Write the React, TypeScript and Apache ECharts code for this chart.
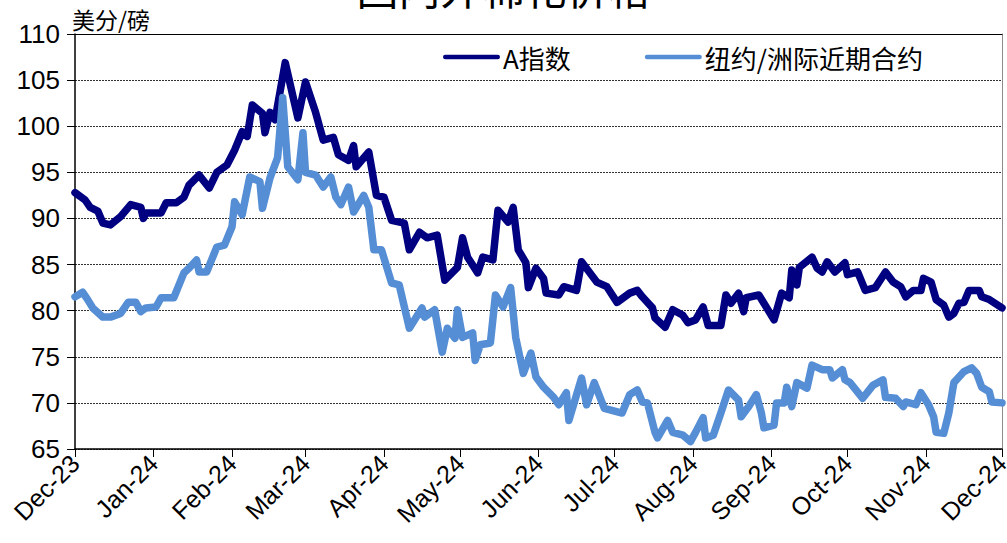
import React, { useEffect, useRef } from 'react';
import * as echarts from 'echarts';

const titleText = '国内外棉花价格';
const unitLabel = '美分/磅';
const seriesNames = ['A指数', '纽约/洲际近期合约'];

const tickDates = [
  '2023-12-01', '2024-01-01', '2024-02-01', '2024-03-01', '2024-04-01', '2024-05-01', '2024-06-01',
  '2024-07-01', '2024-08-01', '2024-09-01', '2024-10-01', '2024-11-01', '2024-12-01',
];
const tickLabels = [
  'Dec-23', 'Jan-24', 'Feb-24', 'Mar-24', 'Apr-24', 'May-24', 'Jun-24',
  'Jul-24', 'Aug-24', 'Sep-24', 'Oct-24', 'Nov-24', 'Dec-24',
];

const aDates = [
  '2023-12-01', '2023-12-05', '2023-12-07', '2023-12-10', '2023-12-12', '2023-12-15', '2023-12-19', '2023-12-23',
  '2023-12-27', '2023-12-28', '2023-12-29', '2024-01-04', '2024-01-06', '2024-01-10', '2024-01-13', '2024-01-15',
  '2024-01-19', '2024-01-23', '2024-01-26', '2024-01-30', '2024-02-02', '2024-02-05', '2024-02-07', '2024-02-09',
  '2024-02-13', '2024-02-14', '2024-02-16', '2024-02-18', '2024-02-22', '2024-02-27', '2024-03-01', '2024-03-05',
  '2024-03-08', '2024-03-12', '2024-03-14', '2024-03-18', '2024-03-20', '2024-03-21', '2024-03-26', '2024-03-29',
  '2024-04-01', '2024-04-04', '2024-04-09', '2024-04-11', '2024-04-15', '2024-04-18', '2024-04-22', '2024-04-25',
  '2024-04-30', '2024-05-02', '2024-05-04', '2024-05-08', '2024-05-10', '2024-05-14', '2024-05-16', '2024-05-20',
  '2024-05-22', '2024-05-24', '2024-05-27', '2024-05-28', '2024-05-31', '2024-06-03', '2024-06-04', '2024-06-09',
  '2024-06-11', '2024-06-16', '2024-06-18', '2024-06-24', '2024-06-28', '2024-07-02', '2024-07-07', '2024-07-10',
  '2024-07-12', '2024-07-16', '2024-07-17', '2024-07-21', '2024-07-24', '2024-07-28', '2024-07-30', '2024-08-02',
  '2024-08-05', '2024-08-07', '2024-08-12', '2024-08-14', '2024-08-16', '2024-08-19', '2024-08-21', '2024-08-22',
  '2024-08-27', '2024-08-29', '2024-09-02', '2024-09-05', '2024-09-08', '2024-09-09', '2024-09-11', '2024-09-12',
  '2024-09-17', '2024-09-19', '2024-09-21', '2024-09-23', '2024-09-26', '2024-09-30', '2024-10-01', '2024-10-05',
  '2024-10-08', '2024-10-12', '2024-10-16', '2024-10-19', '2024-10-22', '2024-10-24', '2024-10-27', '2024-10-30',
  '2024-10-31', '2024-11-03', '2024-11-05', '2024-11-08', '2024-11-10', '2024-11-12', '2024-11-14', '2024-11-16',
  '2024-11-18', '2024-11-22', '2024-11-23', '2024-11-26', '2024-12-01',
];
const aValues = [
  92.8, 92.0, 91.2, 90.8, 89.5, 89.3, 90.2, 91.5,
  91.2, 90.0, 90.6, 90.6, 91.7, 91.7, 92.3, 93.6,
  94.7, 93.3, 95.0, 95.8, 97.4, 99.4, 98.9, 102.3,
  101.4, 99.3, 101.5, 100.7, 106.9, 100.9, 104.8, 101.5,
  98.5, 98.8, 96.9, 96.3, 97.9, 95.6, 97.2, 92.5,
  92.3, 89.8, 89.5, 86.6, 88.5, 87.9, 88.2, 83.3,
  84.7, 87.9, 85.8, 84.1, 85.8, 85.5, 90.9, 89.6,
  91.2, 86.6, 85.2, 82.5, 84.6, 83.5, 81.9, 81.7,
  82.6, 82.2, 85.3, 83.1, 82.6, 80.9, 81.9, 82.2,
  81.5, 80.3, 79.2, 78.2, 80.1, 79.5, 78.7, 79.0,
  80.4, 78.4, 78.4, 81.7, 80.8, 81.9, 79.9, 81.4,
  81.7, 80.8, 79.0, 81.9, 81.4, 84.4, 82.8, 84.7,
  85.8, 84.6, 84.2, 85.3, 84.2, 85.2, 83.9, 84.2,
  82.2, 82.5, 84.2, 83.1, 82.6, 81.5, 82.2, 82.2,
  83.5, 83.1, 81.2, 80.6, 79.3, 79.7, 80.8, 80.9,
  82.2, 82.2, 81.5, 81.2, 80.3,
];

const nyDates = [
  '2023-12-01', '2023-12-04', '2023-12-06', '2023-12-08', '2023-12-12', '2023-12-15', '2023-12-19', '2023-12-22',
  '2023-12-25', '2023-12-27', '2023-12-29', '2024-01-02', '2024-01-04', '2024-01-09', '2024-01-13', '2024-01-15',
  '2024-01-18', '2024-01-19', '2024-01-22', '2024-01-26', '2024-01-29', '2024-02-01', '2024-02-02', '2024-02-05',
  '2024-02-08', '2024-02-12', '2024-02-13', '2024-02-16', '2024-02-19', '2024-02-21', '2024-02-23', '2024-02-27',
  '2024-02-29', '2024-03-01', '2024-03-05', '2024-03-08', '2024-03-11', '2024-03-13', '2024-03-15', '2024-03-18',
  '2024-03-20', '2024-03-24', '2024-03-26', '2024-03-28', '2024-03-31', '2024-04-04', '2024-04-07', '2024-04-11',
  '2024-04-16', '2024-04-17', '2024-04-21', '2024-04-24', '2024-04-26', '2024-04-29', '2024-04-30', '2024-05-02',
  '2024-05-06', '2024-05-07', '2024-05-09', '2024-05-13', '2024-05-15', '2024-05-18', '2024-05-21', '2024-05-23',
  '2024-05-26', '2024-05-29', '2024-05-31', '2024-06-03', '2024-06-07', '2024-06-09', '2024-06-12', '2024-06-13',
  '2024-06-18', '2024-06-20', '2024-06-23', '2024-06-27', '2024-07-04', '2024-07-07', '2024-07-10', '2024-07-12',
  '2024-07-14', '2024-07-17', '2024-07-18', '2024-07-22', '2024-07-24', '2024-07-28', '2024-07-31', '2024-08-02',
  '2024-08-05', '2024-08-06', '2024-08-09', '2024-08-12', '2024-08-15', '2024-08-19', '2024-08-20', '2024-08-23',
  '2024-08-26', '2024-08-28', '2024-08-29', '2024-09-02', '2024-09-03', '2024-09-06', '2024-09-07', '2024-09-09',
  '2024-09-11', '2024-09-15', '2024-09-17', '2024-09-21', '2024-09-24', '2024-09-25', '2024-09-29', '2024-09-30',
  '2024-10-02', '2024-10-07', '2024-10-09', '2024-10-11', '2024-10-15', '2024-10-16', '2024-10-20', '2024-10-23',
  '2024-10-24', '2024-10-28', '2024-10-30', '2024-11-02', '2024-11-04', '2024-11-05', '2024-11-08', '2024-11-10',
  '2024-11-12', '2024-11-16', '2024-11-19', '2024-11-21', '2024-11-23', '2024-11-26', '2024-11-27', '2024-12-01',
];
const nyValues = [
  81.5, 82.0, 81.2, 80.3, 79.3, 79.3, 79.7, 80.9,
  80.9, 79.9, 80.3, 80.4, 81.4, 81.4, 84.1, 84.6,
  85.5, 84.2, 84.2, 86.9, 87.1, 89.1, 91.8, 90.4,
  94.5, 94.0, 91.1, 94.4, 96.6, 103.1, 95.6, 94.2,
  99.3, 95.0, 94.7, 93.4, 94.5, 92.3, 91.5, 93.4,
  90.7, 92.5, 91.2, 86.6, 86.6, 83.0, 82.8, 78.1,
  80.3, 79.3, 80.1, 75.5, 78.1, 77.0, 80.1, 77.1,
  77.6, 74.6, 76.3, 76.5, 81.7, 80.4, 82.5, 77.1,
  73.2, 75.4, 72.8, 71.7, 70.6, 69.8, 71.1, 68.1,
  72.7, 69.8, 72.2, 69.4, 68.9, 70.9, 71.4, 70.1,
  70.0, 66.8, 66.2, 68.1, 66.8, 66.5, 65.8, 66.8,
  68.4, 66.2, 66.5, 68.9, 71.4, 70.3, 68.5, 69.6,
  70.9, 68.9, 67.3, 67.6, 70.0, 70.0, 71.7, 69.6,
  72.2, 71.6, 74.1, 73.6, 73.6, 72.7, 73.6, 72.5,
  72.2, 70.5, 71.2, 71.9, 72.5, 70.6, 70.5, 69.6,
  70.1, 69.8, 71.1, 69.8, 68.5, 66.8, 66.7, 68.9,
  72.2, 73.4, 73.8, 73.2, 71.7, 71.2, 70.1, 70.0,
];

const toTs = (s: string) => new Date(s + 'T00:00:00Z').getTime();

export default function App() {
  const ref = useRef<HTMLDivElement>(null);

  useEffect(() => {
    if (!ref.current) return;
    const chart = echarts.init(ref.current, null, { renderer: 'svg' });
    const tickTs = tickDates.map(toTs);
    const xMin = tickTs[0];
    const xMax = tickTs[tickTs.length - 1];
    const fmt = (v: number) => {
      const i = tickTs.findIndex((t) => Math.abs(t - v) < 43200000);
      return i >= 0 ? tickLabels[i] : '';
    };
    const latin = '"Liberation Sans", Arial, sans-serif';
    const cjk = '"Noto Sans CJK SC", "Liberation Sans", sans-serif';
    const legendIcon = 'path://M4,0L96,0A4,4,0,0,1,96,8L4,8A4,4,0,0,1,4,0Z';

    chart.setOption({
      animation: false,
      backgroundColor: '#ffffff',
      textStyle: { fontFamily: latin },
      graphic: [
        {
          type: 'text',
          left: 'center',
          top: -35,
          style: { text: titleText, fontSize: 42, fontFamily: cjk, fill: '#000' },
        },
        {
          type: 'text',
          left: 72,
          top: 7,
          style: { text: unitLabel, fontSize: 23, fontFamily: cjk, fill: '#000' },
        },
      ],
      legend: {
        left: 438,
        top: 39,
        itemGap: 74,
        itemWidth: 57,
        itemHeight: 9,
        icon: legendIcon,
        itemStyle: { borderWidth: 0 },
        textStyle: { fontSize: 26, fontFamily: cjk, color: '#000', padding: [0, 0, 0, -2] },
        data: seriesNames,
      },
      grid: {
        left: 75,
        right: 5,
        top: 34,
        bottom: 94,
        containLabel: false,
        outerBoundsMode: 'none',
      },
      xAxis: [
        {
          type: 'value',
          min: xMin,
          max: xMax,
          position: 'bottom',
          axisLine: { show: true, onZero: false, lineStyle: { color: '#000', width: 1.5 } },
          axisTick: { show: true, customValues: tickTs, length: 8, lineStyle: { color: '#000', width: 1 } },
          axisLabel: {
            customValues: tickTs,
            formatter: fmt,
            rotate: 45,
            fontSize: 25,
            color: '#000',
            margin: 10,
            fontFamily: latin,
          },
          splitLine: { show: false },
        },
        {
          type: 'value',
          min: xMin,
          max: xMax,
          position: 'top',
          axisLine: { show: true, onZero: false, lineStyle: { color: '#000', width: 1 } },
          axisTick: { show: false },
          axisLabel: { show: false },
          splitLine: { show: false },
        },
      ],
      yAxis: [
        {
          type: 'value',
          min: 65,
          max: 110,
          interval: 5,
          axisLine: { show: true, onZero: false, lineStyle: { color: '#000', width: 1.5 } },
          axisTick: { show: true, length: 8, lineStyle: { color: '#000', width: 1 } },
          axisLabel: { fontSize: 26, color: '#000', margin: 15, fontFamily: latin },
          splitLine: { show: true, lineStyle: { type: [2, 1], color: '#333', width: 1 } },
        },
        {
          type: 'value',
          min: 65,
          max: 110,
          interval: 5,
          position: 'right',
          axisLine: { show: true, onZero: false, lineStyle: { color: '#8c8c8c', width: 1 } },
          axisTick: { show: false },
          axisLabel: { show: false },
          splitLine: { show: false },
        },
      ],
      series: [
        {
          name: seriesNames[0],
          type: 'line',
          xAxisIndex: 0,
          yAxisIndex: 0,
          showSymbol: false,
          color: '#000080',
          lineStyle: { width: 7.5, color: '#000080', cap: 'round', join: 'round' },
          data: aDates.map((d, i) => [toTs(d), aValues[i]]),
        },
        {
          name: seriesNames[1],
          type: 'line',
          xAxisIndex: 0,
          yAxisIndex: 0,
          showSymbol: false,
          color: '#558ED5',
          lineStyle: { width: 7.5, color: '#558ED5', cap: 'round', join: 'round' },
          data: nyDates.map((d, i) => [toTs(d), nyValues[i]]),
        },
      ],
    });

    return () => chart.dispose();
  }, []);

  return (
    <div
      ref={ref}
      style={{ position: 'absolute', left: 0, top: 0, width: 1007, height: 543 }}
    />
  );
}
